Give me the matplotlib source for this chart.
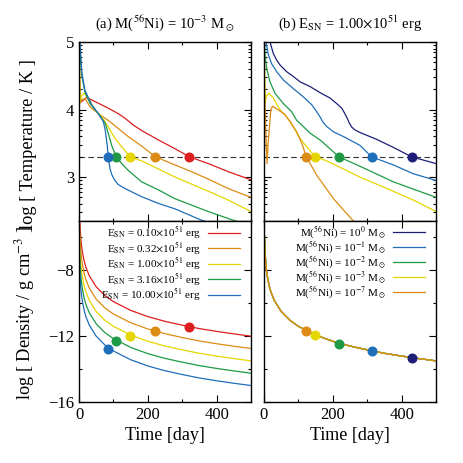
import numpy as np
import matplotlib
matplotlib.use("Agg")
import matplotlib.pyplot as plt
from matplotlib.ticker import MultipleLocator, FixedLocator

plt.rcParams['font.family'] = ['Liberation Serif', 'DejaVu Serif']
plt.rcParams['mathtext.fontset'] = 'stix'

# ---------------- data ----------------
colors_E = ['#dc1e1e', '#dc8c14', '#e6d600', '#1e9a46', '#1e6eb9']
labels_E = [r'E$_{\rm SN}$ = 0.10$\times$10$^{51}$ erg',
            r'E$_{\rm SN}$ = 0.32$\times$10$^{51}$ erg',
            r'E$_{\rm SN}$ = 1.00$\times$10$^{51}$ erg',
            r'E$_{\rm SN}$ = 3.16$\times$10$^{51}$ erg',
            r'E$_{\rm SN}$ = 10.00$\times$10$^{51}$ erg']

# temperature curves, panel (a)
tT_red = [0.5, 3, 8, 22, 46, 85, 114, 134, 158, 182, 231, 279, 321, 376, 434, 500]
T_red = [4.7, 4.1, 4.12, 4.18, 4.12, 4.02, 3.94, 3.87, 3.77, 3.69, 3.55, 3.42, 3.30, 3.20, 3.08, 2.96]
tT_orange = [0.5, 3, 8, 18, 32, 56, 85, 114, 143, 182, 222, 279, 327, 376, 434, 500]
T_orange = [4.8, 4.1, 4.15, 4.16, 4.04, 3.94, 3.84, 3.72, 3.60, 3.46, 3.30, 3.18, 3.08, 2.97, 2.83, 2.70]
tT_yellow = [0.5, 2, 3.5, 7, 14, 27, 46, 61, 76, 90, 105, 124, 149, 182, 231, 279, 376, 434, 500]
T_yellow = [4.9, 4.6, 4.1, 4.2, 4.24, 4.17, 4.0, 3.92, 3.82, 3.70, 3.57, 3.45, 3.30, 3.24, 3.12, 3.00,
            2.79, 2.66, 2.49]
tT_green = [0.5, 3, 8, 17, 32, 56, 76, 85, 95, 108, 124, 143, 182, 231, 279, 376, 449, 480]
T_green = [5.1, 4.86, 4.51, 4.26, 4.09, 3.94, 3.80, 3.65, 3.47, 3.30, 3.20, 3.10, 2.93, 2.81, 2.68,
           2.49, 2.36, 2.31]
tT_blue = [0.5, 3, 8, 17, 37, 56, 71, 77, 82, 85, 90, 95, 100, 106, 114, 134, 182, 231, 279, 357, 400]
T_blue = [5.1, 4.98, 4.56, 4.29, 4.07, 3.94, 3.82, 3.67, 3.47, 3.30, 3.13, 3.04, 2.99, 2.94, 2.89, 2.83,
          2.71, 2.61, 2.53, 2.36, 2.30]
tT_a = [tT_red, tT_orange, tT_yellow, tT_green, tT_blue]
T_a = [T_red, T_orange, T_yellow, T_green, T_blue]

# density curves, panel (a)
t_rho = [1.5, 2, 3, 5, 7, 10, 15, 20, 30, 50, 75, 100, 150, 200, 250, 300, 350, 400, 450, 500]
rho_red = [-4.4, -4.81, -5.33, -6.0, -6.44, -6.90, -7.43, -7.81, -8.33, -9.0, -9.53, -9.90,
           -10.43, -10.81, -11.10, -11.33, -11.54, -11.71, -11.86, -12.0]
rho_orange = [-5.15, -5.56, -6.08, -6.75, -7.19, -7.65, -8.18, -8.56, -9.08, -9.75, -10.28, -10.65,
              -11.18, -11.56, -11.85, -12.08, -12.29, -12.46, -12.61, -12.75]
rho_yellow = [-5.9, -6.31, -6.83, -7.5, -7.94, -8.40, -8.93, -9.31, -9.83, -10.5, -11.03, -11.40,
              -11.93, -12.31, -12.60, -12.83, -13.04, -13.21, -13.36, -13.5]
rho_green = [-6.65, -7.06, -7.58, -8.25, -8.69, -9.15, -9.68, -10.06, -10.58, -11.25, -11.78, -12.15,
             -12.68, -13.06, -13.35, -13.58, -13.79, -13.96, -14.11, -14.25]
rho_blue = [-7.4, -7.81, -8.33, -9.0, -9.44, -9.90, -10.43, -10.81, -11.33, -12.0, -12.53, -12.90,
            -13.43, -13.81, -14.10, -14.33, -14.54, -14.71, -14.86, -15.0]
rho_a = [rho_red, rho_orange, rho_yellow, rho_green, rho_blue]

t_dot_a = [321, 222, 149, 108, 85]
rho_dot_a = [-11.45, -11.71, -11.96, -12.31, -12.80]
T_dot = 3.3

# panel (b)
colors_M = ['#1e1e78', '#1e6eb9', '#1e9a46', '#e6d600', '#dc8c14']
labels_M = [r'M($^{56}$Ni) = 10$^{0}$ M$_\odot$',
            r'M($^{56}$Ni) = 10$^{-1}$ M$_\odot$',
            r'M($^{56}$Ni) = 10$^{-2}$ M$_\odot$',
            r'M($^{56}$Ni) = 10$^{-3}$ M$_\odot$',
            r'M($^{56}$Ni) = 10$^{-7}$ M$_\odot$']
tT_navy = [12, 17.4, 27, 37, 46.5, 66, 85, 105, 134, 163, 192, 211, 226, 235, 242, 248, 255, 264,
           279, 327, 376, 429, 500]
T_navy = [5.15, 5.0, 4.83, 4.73, 4.66, 4.56, 4.49, 4.41, 4.34, 4.25, 4.17, 4.09, 4.02, 3.94, 3.87,
          3.80, 3.74, 3.70, 3.66, 3.56, 3.44, 3.30, 3.20]
tT_blueb = [2, 5.8, 12.6, 22, 37, 56, 85, 114, 139, 153, 163, 172, 182, 202, 231, 279, 313, 376, 434, 500]
T_blueb = [5.15, 5.0, 4.81, 4.68, 4.56, 4.44, 4.31, 4.19, 4.07, 3.97, 3.89, 3.81, 3.75, 3.67, 3.60,
           3.47, 3.30, 3.18, 3.05, 2.95]
tT_greenb = [0.5, 2.9, 7.8, 17.4, 32, 56, 80, 95, 110, 134, 163, 218, 279, 376, 500]
T_greenb = [5.1, 4.81, 4.61, 4.41, 4.24, 4.09, 3.97, 3.84, 3.77, 3.65, 3.55, 3.30, 3.16, 2.93, 2.70]
tT_orangeb = [0.5, 2, 5, 9, 12, 20, 25, 40, 60, 76, 95, 110, 123, 153, 202, 258, 280]
T_orangeb = [4.6, 4.3, 3.7, 3.2, 3.5, 4.0, 4.05, 4.0, 3.93, 3.82, 3.67, 3.50, 3.30, 3.03, 2.68, 2.36, 2.25]
tT_b = [tT_navy, tT_blueb, tT_greenb, tT_yellow, tT_orangeb]
T_b = [T_navy, T_blueb, T_greenb, T_yellow, T_orangeb]
rho_b = [rho_yellow, rho_yellow, rho_yellow, rho_yellow, rho_yellow]
t_dot_b = [430, 313, 218, 149, 123]
rho_dot_b = [-13.34, -12.91, -12.46, -11.94, -11.70]

# ---------------- figure ----------------
fig = plt.figure(figsize=(4.63, 4.63), dpi=100)
W, H = 463.0, 463.0
def ax_at(x0, x1, y0, y1):
    return fig.add_axes([x0 / W, 1 - y1 / H, (x1 - x0) / W, (y1 - y0) / H])

axTa = ax_at(79, 251, 42, 221)
axRa = ax_at(79, 251, 221, 402)
axTb = ax_at(264, 436, 42, 221)
axRb = ax_at(264, 436, 221, 402)

logminor = []
for d in [2, 3, 4]:
    for k in range(2, 10):
        logminor.append(d + np.log10(k))

lw = 0.9
ms = 6.2
tick_fs = 12

for ax in [axTa, axRa, axTb, axRb]:
    ax.set_xlim(0, 500)
    ax.xaxis.set_major_locator(MultipleLocator(200))
    ax.xaxis.set_minor_locator(MultipleLocator(100))
    ax.tick_params(which='both', direction='in', top=True, right=True, labelsize=tick_fs, width=0.8)
    ax.tick_params(which='major', length=5)
    ax.tick_params(which='minor', length=2.5)
    for s in ax.spines.values():
        s.set_linewidth(1.0)

for ax in [axTa, axTb]:
    ax.set_ylim(2.35, 5)
    ax.yaxis.set_major_locator(MultipleLocator(1))
    ax.yaxis.set_minor_locator(FixedLocator(logminor))
    ax.set_xticklabels([])
    ax.axhline(T_dot, color='#333333', lw=0.8, ls=(0, (5, 3)), zorder=1)
for ax in [axRa, axRb]:
    ax.set_ylim(-16, -5)
    ax.yaxis.set_major_locator(MultipleLocator(4))
    ax.yaxis.set_minor_locator(MultipleLocator(2))
    ax.set_xlabel('Time [day]', fontsize=13, labelpad=3)
for ax in [axTb, axRb]:
    ax.set_yticklabels([])

axTa.set_ylabel('log [ Temperature / K ]', fontsize=13.2)
axRa.set_ylabel(r'log [ Density / g cm$^{-3}$ ]', fontsize=13.2)
axTa.yaxis.set_label_coords(-0.244, 0.43)
axRa.yaxis.set_label_coords(-0.244, 0.49)

axTa.set_title(r'(a) M($^{56}$Ni) = 10$^{-3}$ M$_\odot$', fontsize=10.5, pad=10)
axTb.set_title(r'(b) E$_{\rm SN}$ = 1.00$\times$10$^{51}$ erg', fontsize=10.5, pad=10)

# panel (a)
for i in range(5):
    axTa.plot(tT_a[i], T_a[i], color=colors_E[i], lw=lw, zorder=2)
    axRa.plot(t_rho, rho_a[i], color=colors_E[i], lw=lw, zorder=2, label=labels_E[i])
    axTa.plot([t_dot_a[i]], [T_dot], 'o', color=colors_E[i], ms=ms, zorder=4)
    axRa.plot([t_dot_a[i]], [rho_dot_a[i]], 'o', color=colors_E[i], ms=ms, zorder=4)

# panel (b)
for i in range(5):
    axTb.plot(tT_b[i], T_b[i], color=colors_M[i], lw=lw, zorder=2)
    axRb.plot(t_rho, rho_b[i], color=colors_M[i], lw=lw, zorder=2, label=labels_M[i])
    axTb.plot([t_dot_b[i]], [T_dot], 'o', color=colors_M[i], ms=ms, zorder=4)
    axRb.plot([t_dot_b[i]], [rho_dot_b[i]], 'o', color=colors_M[i], ms=ms, zorder=4)

for ax in [axRa, axRb]:
    ax.legend(loc='upper right', frameon=False, fontsize=8.0, markerfirst=False,
              handlelength=2.9, handletextpad=0.6, labelspacing=-0.12,
              borderaxespad=0.1, borderpad=0.2, bbox_to_anchor=(0.955, 1.0))

fig.savefig('out.png', dpi=100)
